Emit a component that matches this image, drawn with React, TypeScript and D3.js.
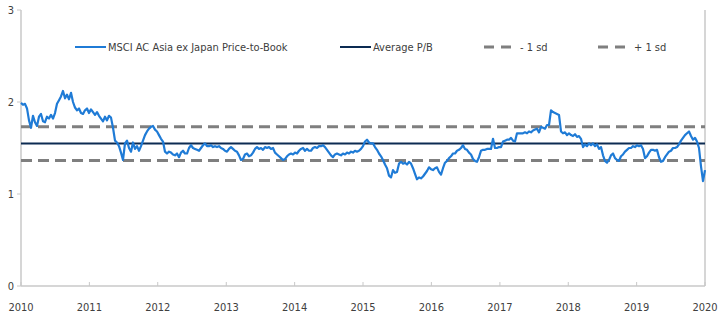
import React from 'react';
import * as d3 from 'd3';

const startDate = new Date(2010, 0, 1);
const endDate = new Date(2020, 0, 1);

// MSCI AC Asia ex Japan Price-to-Book, regularly spaced observations 2010 -> 2020
const pbValues: number[] = [
  1.99, 1.97, 1.98, 1.93, 1.80, 1.72, 1.85, 1.78, 1.74, 1.84,
  1.87, 1.79, 1.78, 1.84, 1.82, 1.86, 1.82, 1.88, 1.98, 2.02,
  2.06, 2.12, 2.04, 2.08, 2.03, 2.10, 2.00, 1.94, 1.91, 1.93,
  1.88, 1.87, 1.91, 1.93, 1.88, 1.92, 1.89, 1.86, 1.89, 1.85,
  1.82, 1.79, 1.84, 1.80, 1.85, 1.83, 1.72, 1.58, 1.56, 1.52,
  1.45, 1.37, 1.55, 1.58, 1.50, 1.46, 1.56, 1.49, 1.52, 1.47,
  1.52, 1.58, 1.64, 1.68, 1.71, 1.73, 1.74, 1.70, 1.68, 1.64,
  1.60, 1.57, 1.46, 1.44, 1.46, 1.45, 1.43, 1.42, 1.44, 1.40,
  1.45, 1.47, 1.44, 1.44, 1.50, 1.53, 1.50, 1.49, 1.48, 1.47,
  1.50, 1.53, 1.55, 1.52, 1.52, 1.53, 1.51, 1.52, 1.51, 1.52,
  1.50, 1.49, 1.47, 1.46, 1.49, 1.51, 1.49, 1.47, 1.46, 1.42,
  1.37, 1.38, 1.43, 1.44, 1.41, 1.42, 1.45, 1.49, 1.51, 1.49,
  1.50, 1.48, 1.51, 1.50, 1.51, 1.49, 1.50, 1.45, 1.43, 1.41,
  1.39, 1.37, 1.38, 1.41, 1.43, 1.44, 1.43, 1.45, 1.44, 1.47,
  1.49, 1.50, 1.47, 1.49, 1.47, 1.47, 1.50, 1.51, 1.50, 1.52,
  1.52, 1.53, 1.51, 1.48, 1.45, 1.42, 1.40, 1.43, 1.44, 1.43,
  1.42, 1.44, 1.43, 1.45, 1.44, 1.46, 1.45, 1.47, 1.46, 1.47,
  1.49, 1.52, 1.57, 1.59, 1.56, 1.55, 1.55, 1.51, 1.48, 1.44,
  1.41, 1.37, 1.32, 1.28, 1.20, 1.18, 1.26, 1.23, 1.24, 1.33,
  1.35, 1.33, 1.34, 1.32, 1.35, 1.33, 1.28, 1.22, 1.16, 1.18,
  1.17, 1.19, 1.22, 1.25, 1.29, 1.27, 1.26, 1.28, 1.29, 1.24,
  1.21, 1.28, 1.34, 1.36, 1.39, 1.41, 1.44, 1.44, 1.47, 1.48,
  1.50, 1.53, 1.49, 1.48, 1.45, 1.43, 1.38, 1.36, 1.35, 1.40,
  1.47, 1.48, 1.48, 1.49, 1.49, 1.49, 1.60, 1.50, 1.50, 1.51,
  1.51, 1.57, 1.58, 1.59, 1.59, 1.61, 1.58, 1.57, 1.66, 1.66,
  1.66, 1.66, 1.67, 1.66, 1.68, 1.67, 1.69, 1.70, 1.71, 1.67,
  1.73, 1.72, 1.71, 1.75, 1.75, 1.91, 1.89, 1.88, 1.87, 1.86,
  1.68, 1.66, 1.67, 1.64, 1.66, 1.64, 1.63, 1.65, 1.62, 1.63,
  1.60, 1.51, 1.54, 1.52, 1.55, 1.53, 1.55, 1.52, 1.54, 1.49,
  1.51, 1.42, 1.36, 1.34, 1.37, 1.42, 1.44, 1.39, 1.37, 1.36,
  1.41, 1.43, 1.46, 1.48, 1.50, 1.50, 1.52, 1.51, 1.53, 1.52,
  1.53, 1.49, 1.39, 1.41, 1.45, 1.48, 1.48, 1.47, 1.48, 1.40,
  1.35, 1.36, 1.40, 1.43, 1.46, 1.47, 1.50, 1.50, 1.51, 1.54,
  1.58, 1.61, 1.64, 1.66, 1.68, 1.63, 1.59, 1.61, 1.57, 1.50,
  1.30, 1.14, 1.26,
];

const averagePB = 1.55;
const minusOneSD = 1.365;
const plusOneSD = 1.73;

const yTicks = [0, 1, 2, 3];
const yearTicks = [2010, 2011, 2012, 2013, 2014, 2015, 2016, 2017, 2018, 2019, 2020];

const legendLabels = ['MSCI AC Asia ex Japan Price-to-Book', 'Average P/B', '- 1 sd', '+ 1 sd'];

const FONT = "'DejaVu Sans Condensed', 'Liberation Sans Narrow', sans-serif";
const BLUE = '#1f7bd6';
const NAVY = '#0c2b52';
const GREY = '#7f7f7f';
const AXIS = '#c8c8c8';
const TEXT = '#404040';

export default function App() {
  const width = 720;
  const height = 322;
  const left = 21;
  const right = 705;
  const top = 10;
  const bottom = 286;

  const x = d3.scaleTime().domain([startDate, endDate]).range([left, right]);
  const y = d3.scaleLinear().domain([0, 3]).range([bottom, top]);

  const n = pbValues.length;
  const span = +endDate - +startDate;
  const series = pbValues.map((v, i) => ({ date: new Date(+startDate + (i * span) / (n - 1)), value: v }));

  const line = d3
    .line<{ date: Date; value: number }>()
    .x((d) => x(d.date))
    .y((d) => y(d.value));

  const legendY = 47;
  const legendItems = [
    { label: legendLabels[0], x0: 75, x1: 106, color: BLUE, dash: null, w: 2 },
    { label: legendLabels[1], x0: 340, x1: 371, color: NAVY, dash: null, w: 2 },
    { label: legendLabels[2], x0: 484, x1: 518, color: GREY, dash: '10,7', w: 3 },
    { label: legendLabels[3], x0: 598, x1: 632, color: GREY, dash: '10,7', w: 3 },
  ];

  return (
    <svg
      width={width}
      height={height}
      style={{ position: 'absolute', left: 0, top: 0, background: '#fff' }}
      fontFamily={FONT}
    >
      {/* axes frame */}
      <line x1={left} x2={left} y1={top} y2={bottom} stroke={AXIS} strokeWidth={1.5} />
      <line x1={right} x2={right} y1={top} y2={bottom} stroke={AXIS} strokeWidth={1.5} />
      <line x1={left} x2={right} y1={bottom} y2={bottom} stroke={AXIS} strokeWidth={1.5} />

      {yTicks.map((t) => (
        <g key={'y' + t}>
          <line x1={left - 4} x2={left} y1={y(t)} y2={y(t)} stroke={AXIS} strokeWidth={1} />
          <text x={left - 7} y={y(t)} dy="0.35em" textAnchor="end" fontSize={11} fill={TEXT}>
            {t}
          </text>
        </g>
      ))}

      {yearTicks.map((yr) => {
        const xx = x(new Date(yr, 0, 1));
        return (
          <g key={'x' + yr}>
            <line x1={xx} x2={xx} y1={bottom - 4} y2={bottom} stroke={AXIS} strokeWidth={1} />
            <text x={xx} y={bottom + 25} textAnchor="middle" fontSize={11} fill={TEXT}>
              {yr}
            </text>
          </g>
        );
      })}

      {/* reference lines */}
      <line x1={left} x2={right} y1={y(plusOneSD)} y2={y(plusOneSD)} stroke={GREY} strokeWidth={3} strokeDasharray="11,6" />
      <line x1={left} x2={right} y1={y(minusOneSD)} y2={y(minusOneSD)} stroke={GREY} strokeWidth={3} strokeDasharray="11,6" />
      <line x1={left} x2={right} y1={y(averagePB)} y2={y(averagePB)} stroke={NAVY} strokeWidth={2} />

      <path d={line(series) || ''} fill="none" stroke={BLUE} strokeWidth={2.2} strokeLinejoin="round" />

      {/* legend */}
      {legendItems.map((it) => (
        <g key={it.label}>
          <line
            x1={it.x0}
            x2={it.x1}
            y1={legendY}
            y2={legendY}
            stroke={it.color}
            strokeWidth={it.w}
            strokeDasharray={it.dash || undefined}
          />
          <text x={it.x1 + 2} y={legendY} dy="0.35em" fontSize={11} fill={TEXT}>
            {it.label}
          </text>
        </g>
      ))}
    </svg>
  );
}
